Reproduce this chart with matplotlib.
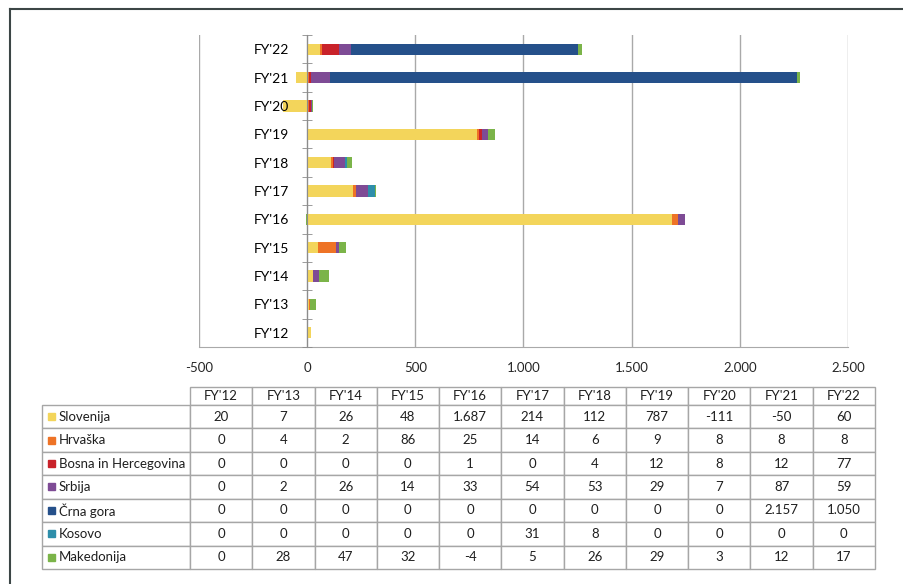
import matplotlib.pyplot as plt
import numpy as np
from matplotlib.table import Table
from matplotlib.lines import Line2D
from matplotlib.patches import Rectangle

plt.rcParams['font.family'] = ['Lato', 'DejaVu Sans']

years = ["FY'12", "FY'13", "FY'14", "FY'15", "FY'16", "FY'17", "FY'18", "FY'19", "FY'20", "FY'21", "FY'22"]
countries = ["Slovenija", "Hrvaška", "Bosna in Hercegovina", "Srbija", "Črna gora", "Kosovo", "Makedonija"]
slovenija = [20, 7, 26, 48, 1687, 214, 112, 787, -111, -50, 60]
hrvaska = [0, 4, 2, 86, 25, 14, 6, 9, 8, 8, 8]
bih = [0, 0, 0, 0, 1, 0, 4, 12, 8, 12, 77]
srbija = [0, 2, 26, 14, 33, 54, 53, 29, 7, 87, 59]
crna_gora = [0, 0, 0, 0, 0, 0, 0, 0, 0, 2157, 1050]
kosovo = [0, 0, 0, 0, 0, 31, 8, 0, 0, 0, 0]
makedonija = [0, 28, 47, 32, -4, 5, 26, 29, 3, 12, 17]
colors = ['#F3D55B', '#EE7326', '#C9222A', '#7E4B95', '#25508A', '#2E8EAA', '#7BB449']

series = [slovenija, hrvaska, bih, srbija, crna_gora, kosovo, makedonija]


def fmt(v):
    return f"{v:,}".replace(",", ".")


fig = plt.figure(figsize=(9.04, 5.84), dpi=100)

# chart
ax = fig.add_axes([199 / 904, 1 - 347 / 584, 649 / 904, 312 / 584])
y = np.arange(len(years))
pos = np.zeros(len(years))
neg = np.zeros(len(years))
for vals, c in zip(series, colors):
    v = np.array(vals, dtype=float)
    left = np.where(v >= 0, pos, neg)
    ax.barh(y, v, left=left, height=0.4, color=c, zorder=2)
    pos = pos + np.where(v >= 0, v, 0)
    neg = neg + np.where(v < 0, v, 0)

ax.set_xlim(-500, 2500)
ax.set_ylim(-0.5, len(years) - 0.5)
ax.set_xticks(range(-500, 2501, 500))
ax.set_xticklabels([fmt(t) for t in range(-500, 2501, 500)], fontsize=9.5, color='#262626')
ax.tick_params(axis='x', length=0, pad=11)
ax.grid(axis='x', color='#A9A9A9', lw=1, zorder=0)
ax.set_yticks(y)
ax.set_yticklabels(years, fontsize=9.5, color='#262626')
ax.set_yticks(np.arange(-0.5, len(years)), minor=True)
ax.tick_params(axis='y', which='major', length=0, pad=13)
ax.tick_params(axis='y', which='minor', length=7, direction='inout', color='#8C8C8C')
ax.yaxis.set_zorder(3)
ax.spines['left'].set_position(('data', 0))
ax.spines['left'].set_color('#8C8C8C')
ax.spines['bottom'].set_color('#A9A9A9')
ax.spines['top'].set_visible(False)
ax.spines['right'].set_visible(False)

# data table
tax = fig.add_axes([42 / 904, 1 - 569 / 584, 833 / 904, 182 / 584])
tax.axis('off')
tbl = Table(tax, bbox=[0, 0, 1, 1])
lab_w, col_w = 148, 62.3
head_h, row_h = 18, 23.4
edge = '#A6A6A6'
for j, yr in enumerate(years):
    tbl.add_cell(0, j + 1, col_w, head_h, text=yr, loc='center', edgecolor=edge)
tbl.add_cell(0, 0, lab_w, head_h, text='', edgecolor='none', facecolor='none')
for i, (name, vals) in enumerate(zip(countries, series)):
    cell = tbl.add_cell(i + 1, 0, lab_w, row_h, text=name, loc='left', edgecolor=edge)
    cell.PAD = 0.115
    for j, v in enumerate(vals):
        tbl.add_cell(i + 1, j + 1, col_w, row_h, text=fmt(v), loc='center', edgecolor=edge)
tbl.auto_set_font_size(False)
tbl.set_fontsize(9.5)
for cell in tbl.get_celld().values():
    cell.get_text().set_color('#1F1F1F')
    cell.set_linewidth(1)
tax.add_table(tbl)

# legend keys inside row label cells
for i, c in enumerate(colors):
    yc = 1 - (405 + row_h * (i + 0.5)) / 584
    fig.add_artist(Rectangle((48 / 904, yc - 3.5 / 584), 7 / 904, 7 / 584,
                             transform=fig.transFigure, color=c))

# outer frame
fig.add_artist(Line2D([10 / 904, 1], [1 - 9 / 584, 1 - 9 / 584], color='#3C4646', lw=1.5))
fig.add_artist(Line2D([10 / 904, 10 / 904], [0, 1 - 9 / 584], color='#3C4646', lw=1.5))

plt.savefig('out.png', dpi=100)
